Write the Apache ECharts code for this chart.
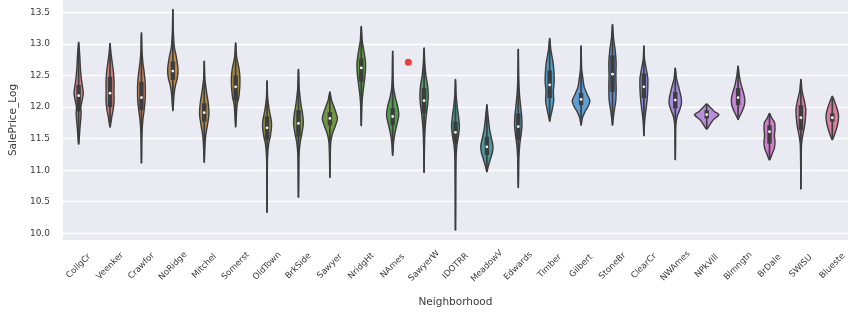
<!DOCTYPE html>
<html>
<head>
<meta charset="utf-8">
<script src="https://cdn.jsdelivr.net/npm/echarts@6/dist/echarts.min.js"></script>
<style>
html,body{margin:0;padding:0;background:#fff;}
#main{width:858px;height:323px;}
</style>
</head>
<body>
<div id="main"></div>
<script>
const categories = ['CollgCr','Veenker','Crawfor','NoRidge','Mitchel','Somerst','OldTown','BrkSide','Sawyer','NridgHt','NAmes','SawyerW','IDOTRR','MeadowV','Edwards','Timber','Gilbert','StoneBr','ClearCr','NWAmes','NPkVill','Blmngtn','BrDale','SWISU','Blueste'];
const lowValues  = [11.41, 11.68, 11.11, 11.94, 11.12, 11.68, 10.33, 10.57, 10.88, 11.70, 11.23, 10.96, 10.05, 10.97, 10.72, 11.77, 11.71, 11.71, 11.54, 11.16, 11.65, 11.80, 11.16, 10.70, 11.48];
const highValues = [13.03, 13.01, 13.18, 13.55, 12.73, 13.02, 12.42, 12.60, 12.24, 13.28, 12.89, 12.94, 12.44, 12.04, 12.92, 13.09, 12.97, 13.31, 12.97, 12.62, 12.05, 12.65, 11.90, 12.44, 12.17];
const q1Values   = [11.93, 12.00, 11.95, 12.43, 11.77, 12.10, 11.48, 11.53, 11.71, 12.40, 11.71, 11.90, 11.42, 11.24, 11.48, 12.14, 12.03, 12.24, 12.14, 11.98, 11.82, 12.03, 11.42, 11.63, 11.77];
const medianValues = [12.18, 12.22, 12.15, 12.57, 11.91, 12.32, 11.67, 11.74, 11.82, 12.62, 11.85, 12.10, 11.60, 11.37, 11.69, 12.35, 12.12, 12.52, 12.32, 12.11, 11.88, 12.15, 11.61, 11.83, 11.83];
const q3Values   = [12.35, 12.48, 12.40, 12.72, 12.06, 12.50, 11.85, 11.95, 11.92, 12.77, 11.98, 12.30, 11.77, 11.53, 11.90, 12.58, 12.22, 12.82, 12.53, 12.24, 11.95, 12.30, 11.71, 12.03, 11.90];
// relative density (violin half-width) read at price levels, top to bottom: [SalePrice_Log, density]
const densityProfiles = [
  [[13.03,0],[12.85,0.08],[12.6,0.15],[12.45,0.22],[12.3,0.33],[12.22,0.38],[12.1,0.28],[12.0,0.18],[11.9,0.2],[11.8,0.17],[11.65,0.1],[11.5,0.05],[11.41,0]],
  [[13.01,0],[12.85,0.08],[12.7,0.18],[12.55,0.28],[12.4,0.33],[12.25,0.32],[12.1,0.33],[11.95,0.25],[11.85,0.15],[11.75,0.07],[11.68,0]],
  [[13.18,0],[12.9,0.04],[12.7,0.12],[12.55,0.22],[12.4,0.3],[12.25,0.32],[12.1,0.3],[11.95,0.22],[11.8,0.12],[11.6,0.05],[11.4,0.02],[11.11,0]],
  [[13.55,0],[13.2,0.04],[12.95,0.12],[12.8,0.28],[12.65,0.4],[12.55,0.42],[12.45,0.36],[12.35,0.22],[12.2,0.1],[12.05,0.05],[11.94,0]],
  [[12.73,0],[12.45,0.05],[12.25,0.18],[12.1,0.3],[11.95,0.38],[11.85,0.37],[11.7,0.25],[11.55,0.12],[11.35,0.05],[11.12,0]],
  [[13.02,0],[12.8,0.08],[12.6,0.28],[12.45,0.35],[12.3,0.33],[12.15,0.25],[12.05,0.13],[11.9,0.07],[11.68,0]],
  [[12.42,0],[12.15,0.05],[11.95,0.18],[11.8,0.33],[11.7,0.37],[11.55,0.28],[11.4,0.12],[11.2,0.04],[10.9,0.02],[10.33,0]],
  [[12.6,0],[12.3,0.06],[12.05,0.2],[11.9,0.33],[11.75,0.4],[11.6,0.3],[11.45,0.15],[11.25,0.05],[10.9,0.02],[10.57,0]],
  [[12.24,0],[12.1,0.15],[11.97,0.4],[11.82,0.62],[11.7,0.45],[11.58,0.22],[11.45,0.08],[11.2,0.03],[10.88,0]],
  [[13.28,0],[13.05,0.08],[12.85,0.25],[12.7,0.35],[12.55,0.33],[12.4,0.25],[12.25,0.15],[12.1,0.07],[11.9,0.03],[11.7,0]],
  [[12.89,0],[12.5,0.03],[12.3,0.08],[12.15,0.22],[12.0,0.42],[11.87,0.5],[11.75,0.38],[11.6,0.2],[11.45,0.08],[11.3,0.03],[11.23,0]],
  [[12.94,0],[12.7,0.06],[12.5,0.15],[12.35,0.28],[12.2,0.34],[12.05,0.3],[11.9,0.2],[11.7,0.1],[11.5,0.05],[11.2,0.02],[10.96,0]],
  [[12.44,0],[12.2,0.05],[12.0,0.15],[11.85,0.25],[11.7,0.32],[11.55,0.25],[11.4,0.12],[11.2,0.05],[10.8,0.02],[10.05,0]],
  [[12.04,0],[11.85,0.1],[11.65,0.22],[11.5,0.38],[11.38,0.5],[11.28,0.45],[11.17,0.28],[11.05,0.1],[10.97,0]],
  [[12.92,0],[12.5,0.03],[12.2,0.1],[12.0,0.2],[11.85,0.28],[11.7,0.3],[11.55,0.22],[11.4,0.12],[11.2,0.05],[10.9,0.02],[10.72,0]],
  [[13.09,0],[12.9,0.1],[12.7,0.28],[12.55,0.35],[12.4,0.37],[12.25,0.3],[12.1,0.33],[11.95,0.2],[11.85,0.08],[11.77,0]],
  [[12.97,0],[12.6,0.05],[12.45,0.15],[12.32,0.25],[12.2,0.5],[12.1,0.72],[12.0,0.55],[11.92,0.3],[11.82,0.1],[11.71,0]],
  [[13.31,0],[13.1,0.08],[12.9,0.22],[12.7,0.3],[12.5,0.28],[12.3,0.3],[12.1,0.27],[11.95,0.15],[11.8,0.05],[11.71,0]],
  [[12.97,0],[12.75,0.06],[12.6,0.2],[12.45,0.32],[12.3,0.32],[12.15,0.28],[12.0,0.2],[11.85,0.1],[11.7,0.04],[11.54,0]],
  [[12.62,0],[12.45,0.1],[12.3,0.3],[12.15,0.48],[12.05,0.5],[11.95,0.35],[11.85,0.15],[11.7,0.04],[11.4,0.02],[11.16,0]],
  [[12.05,0],[12.0,0.26],[11.93,0.62],[11.88,1.0],[11.8,0.55],[11.72,0.26],[11.65,0]],
  [[12.65,0],[12.5,0.1],[12.35,0.25],[12.22,0.45],[12.12,0.55],[12.02,0.5],[11.92,0.3],[11.85,0.12],[11.8,0]],
  [[11.9,0],[11.82,0.2],[11.75,0.42],[11.65,0.45],[11.55,0.4],[11.45,0.45],[11.35,0.4],[11.25,0.2],[11.16,0]],
  [[12.44,0],[12.25,0.1],[12.1,0.28],[11.97,0.4],[11.85,0.38],[11.7,0.3],[11.55,0.15],[11.4,0.05],[11.1,0.02],[10.7,0]],
  [[12.17,0],[12.08,0.2],[11.98,0.38],[11.88,0.5],[11.8,0.5],[11.7,0.4],[11.6,0.25],[11.52,0.1],[11.48,0]]
];
const markerPoint = [[10.5, 12.71]];
const yTicks = [10.0, 10.5, 11.0, 11.5, 12.0, 12.5, 13.0, 13.5];

const palette = ['#d47c8a','#d4837a','#c98562','#bd8849','#b08a46','#a38d44','#959042','#849441','#719842','#5e9c43','#549d53','#4f9c6e','#4a9c88','#499ba0','#4c9bb3','#509cc6','#5ea0d4','#6b8dcc','#8d8bd6','#a28cdb','#ba8edf','#c685d6','#d27dcd','#cd7aa5','#da7fa2'];
const edge = '#3d3d3d';
const font = 'DejaVu Sans';

const chart = echarts.init(document.getElementById('main'), null, {renderer:'canvas'});

function renderViolin(params, api) {
  const i = params.dataIndex;
  const cx = api.coord([i, 12])[0];
  const band = api.size([1, 0])[0];
  const half = band * 0.39;
  const prof = densityProfiles[i];
  const right = prof.map(p => [cx + p[1] * half, api.coord([i, p[0]])[1]]);
  const left = prof.slice(1, prof.length - 1).reverse().map(p => [cx - p[1] * half, api.coord([i, p[0]])[1]]);
  const pts = right.concat(left);
  const yLo = api.coord([i, lowValues[i]])[1];
  const yHi = api.coord([i, highValues[i]])[1];
  const yQ1 = api.coord([i, q1Values[i]])[1];
  const yQ3 = api.coord([i, q3Values[i]])[1];
  const yMed = api.coord([i, medianValues[i]])[1];
  return {
    type: 'group',
    children: [
      {type:'polygon', shape:{points: pts, smooth: 0.25}, style:{fill: palette[i], stroke: edge, lineWidth: 1.4}},
      {type:'line', shape:{x1: cx, y1: yHi, x2: cx, y2: yLo}, style:{stroke: edge, lineWidth: 1.7}},
      {type:'line', shape:{x1: cx, y1: yQ3, x2: cx, y2: yQ1}, style:{stroke: edge, lineWidth: 4.4}},
      {type:'circle', shape:{cx: cx, cy: yMed, r: 1.4}, style:{fill: '#f4f4f4'}}
    ]
  };
}

const option = {
  animation: false,
  backgroundColor: '#ffffff',
  grid: {left: 53, right: 10, top: 0, bottom: 83, show: true, backgroundColor: '#eaeaf2', borderWidth: 0},
  xAxis: [
    {
      type: 'category', data: categories, boundaryGap: true,
      axisLine: {show: false}, axisTick: {show: false}, splitLine: {show: false},
      axisLabel: {rotate: 45, align: 'center', verticalAlign: 'middle', margin: 26, interval: 0,
                  fontFamily: font, fontSize: 8.5, color: '#3a3a3a'},
      name: 'Neighborhood', nameLocation: 'middle', nameGap: 57,
      nameTextStyle: {fontFamily: font, fontSize: 10.5, color: '#3a3a3a'}
    },
    {type: 'value', min: -0.5, max: 24.5, show: false}
  ],
  yAxis: {
    type: 'value', min: 9.894, max: 13.695, splitNumber: 8,
    axisLine: {show: false}, axisTick: {show: false},
    splitLine: {show: true, showMinLine: false, showMaxLine: false, lineStyle: {color: '#ffffff', width: 1.3}},
    axisLabel: {showMinLabel: false, showMaxLabel: false, margin: 13, fontFamily: font, fontSize: 9, color: '#3a3a3a',
      formatter: v => (yTicks.some(t => Math.abs(t - v) < 1e-6) ? v.toFixed(1) : '')},
    name: 'SalePrice_Log', nameLocation: 'middle', nameGap: 36,
    nameTextStyle: {fontFamily: font, fontSize: 10.5, color: '#3a3a3a'}
  },
  series: [
    {
      type: 'custom', xAxisIndex: 1, yAxisIndex: 0,
      data: categories.map((c, i) => [i, lowValues[i], highValues[i]]),
      encode: {x: 0, y: [1, 2]},
      renderItem: renderViolin, silent: true
    },
    {
      type: 'scatter', xAxisIndex: 1, yAxisIndex: 0, data: markerPoint,
      symbolSize: 7, itemStyle: {color: '#ee1111'}, silent: true
    }
  ]
};
chart.setOption(option);
</script>
</body>
</html>
